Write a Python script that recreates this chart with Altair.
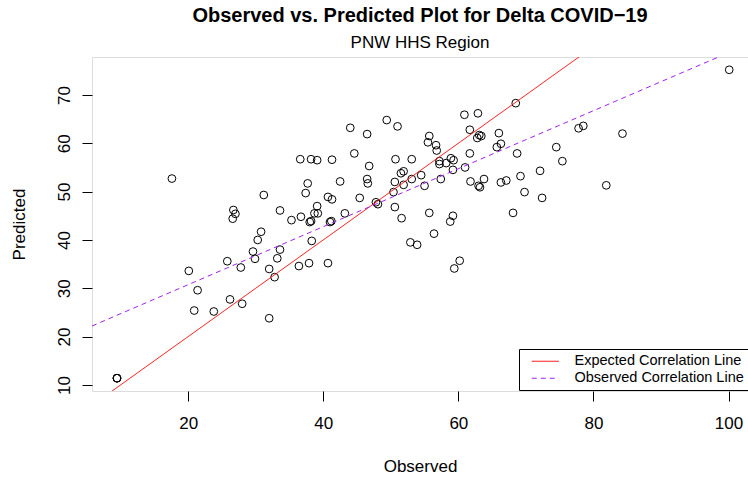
import altair as alt
import pandas as pd

observed = [
    17.6, 44.0, 49.4, 51.0, 46.5, 55.7, 55.5, 56.7, 56.8, 44.6,
    36.6, 38.2, 39.1, 41.3, 50.7, 53.1, 46.8, 51.9, 51.5, 54.5,
    53.1, 37.7, 42.5, 46.5, 46.6, 50.6, 51.9, 55.0, 50.4, 37.4,
    31.2, 40.7, 41.3, 45.4, 47.8, 48.1, 50.6, 39.1, 33.6, 26.7,
    27.0, 26.6, 35.3, 36.7, 38.7, 39.2, 43.2, 51.6, 55.7, 38.0,
    38.2, 41.0, 41.2,
    68.5, 60.9, 62.9, 61.7, 63.1, 62.8, 63.4, 66.0, 66.3, 65.7,
    77.8, 78.5, 84.3, 74.5, 68.7, 61.7, 57.2, 57.2, 58.2, 58.9,
    59.3, 59.2, 61.0, 75.4, 72.1, 57.4, 61.8, 63.8, 63.0, 63.2,
    66.3, 67.1, 69.2, 69.8, 72.4, 81.9, 68.1, 59.2, 58.8,
    30.8, 30.3, 38.3, 29.6, 33.6, 29.9, 33.2, 25.8, 20.1, 27.8,
    32.0, 32.8, 36.4, 37.9, 40.7, 21.4, 26.2, 28.0, 20.9, 23.8,
    32.0,
    56.4, 52.9, 53.9, 60.2, 59.4,
    100.1, 9.47, 9.47, 9.47,
]
predicted = [
    52.7, 63.2, 64.8, 63.5, 61.9, 61.5, 60.2, 59.6, 58.5, 57.9,
    56.7, 56.7, 56.5, 56.6, 56.7, 56.7, 55.3, 54.2, 53.8, 53.4,
    52.6, 51.7, 52.1, 52.6, 51.7, 52.0, 51.4, 51.2, 49.9, 49.7,
    49.3, 48.9, 48.4, 48.7, 47.8, 47.4, 46.8, 47.0, 46.1, 46.2,
    45.4, 44.4, 44.1, 44.8, 45.5, 45.5, 45.5, 44.5, 45.6, 43.7,
    43.9, 43.7, 43.9,
    68.3, 65.9, 66.2, 62.8, 61.7, 61.1, 61.5, 62.1, 59.9, 59.2,
    63.1, 63.6, 62.0, 59.2, 57.9, 57.9, 56.3, 55.7, 55.9, 56.9,
    56.5, 54.5, 55.0, 56.3, 54.3, 52.6, 52.1, 52.6, 51.2, 50.9,
    51.9, 52.3, 53.2, 49.9, 48.7, 51.3, 45.6, 45.0, 43.8,
    41.7, 40.0, 39.8, 37.6, 38.0, 36.1, 36.2, 35.6, 33.6, 34.3,
    34.0, 32.3, 34.6, 35.2, 35.2, 29.6, 27.7, 26.8, 25.4, 25.2,
    23.8,
    41.3, 39.5, 39.0, 35.7, 34.1,
    75.2, 11.4, 11.4, 11.4,
]

series_names = ["Expected Correlation Line", "Observed Correlation Line"]
series_colors = ["#FF0000", "#A020F0"]
series_dashes = [[1, 0], [5, 4]]

# fitted line (intercept, slope)
obs_intercept = 18.74
obs_slope = 0.600

x_ticks = [20, 40, 60, 80, 100]
y_ticks = [10, 20, 30, 40, 50, 60, 70]
x_domain = [5.77, 102.88]
y_domain = [8.75, 77.85]

FONT = "Liberation Sans"

pts = pd.DataFrame({"Observed": observed, "Predicted": predicted})
lines = pd.DataFrame({
    "Observed": x_domain + x_domain,
    "Predicted": x_domain + [obs_intercept + obs_slope * v for v in x_domain],
    "series": [series_names[0]] * 2 + [series_names[1]] * 2,
})

xs = alt.Scale(domain=x_domain, nice=False, zero=False)
ys = alt.Scale(domain=y_domain, nice=False, zero=False)

xaxis = alt.Axis(values=x_ticks, title="Observed", grid=False, domain=False,
                 tickSize=10, tickColor="black", labelColor="black",
                 labelFontSize=17, labelFont=FONT, labelPadding=14,
                 titleFontSize=17, titleFont=FONT, titleFontWeight="normal",
                 titleColor="black", titleBaseline="alphabetic", titleY=80)
yaxis = alt.Axis(values=y_ticks, title="Predicted", grid=False, domain=False,
                 tickSize=10, tickColor="black", labelColor="black",
                 labelFontSize=17, labelFont=FONT, labelAngle=270,
                 labelAlign="center", labelBaseline="alphabetic", labelPadding=13,
                 titleFontSize=17, titleFont=FONT, titleFontWeight="normal",
                 titleColor="black", titleBaseline="alphabetic", titleX=-68,
                 titleAngle=270)

leg = alt.Legend(orient="none", legendX=427, legendY=292, title=None,
                 symbolType="M-3,0H3", symbolSize=81, symbolStrokeWidth=1,
                 labelFontSize=14.5, labelFont=FONT, labelColor="black",
                 labelLimit=0, strokeColor="black", fillColor="white", padding=5,
                 symbolOffset=14, labelOffset=22, rowPadding=2, cornerRadius=0)

color = alt.Color("series:N", scale=alt.Scale(domain=series_names, range=series_colors), legend=leg)
dash = alt.StrokeDash("series:N", scale=alt.Scale(domain=series_names, range=series_dashes), legend=leg)

points = alt.Chart(pts).mark_point(shape="circle", filled=False, color="black",
                                   size=60, strokeWidth=1, opacity=1).encode(
    x=alt.X("Observed:Q", scale=xs, axis=xaxis),
    y=alt.Y("Predicted:Q", scale=ys, axis=yaxis),
)

line_layer = alt.Chart(lines).mark_line(clip=True, strokeWidth=1).encode(
    x=alt.X("Observed:Q", scale=xs),
    y=alt.Y("Predicted:Q", scale=ys),
    color=color, strokeDash=dash,
)

chart = alt.layer(points, line_layer).properties(
    width=656, height=334,
    autosize=alt.AutoSizeParams(type="none"),
    padding={"left": 92, "top": 57, "right": 0, "bottom": 86},
    title=alt.Title(text="Observed vs. Predicted Plot for Delta COVID−19",
                    subtitle="PNW HHS Region", fontSize=20, fontWeight="bold",
                    font=FONT, subtitleFont=FONT, subtitleFontSize=17,
                    color="black", subtitleColor="black", anchor="middle",
                    offset=6, subtitlePadding=9),
).configure_view(stroke="black", strokeWidth=1).configure(background="white")

chart.save("out.html", embed_options={"renderer": "svg", "actions": False})
